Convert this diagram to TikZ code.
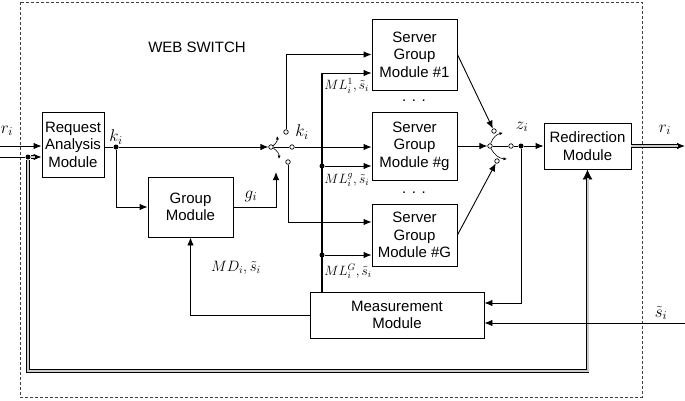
\RequirePackage{fix-cm}
\documentclass[tikz,border=0pt]{standalone}
\usepackage{fontspec}
\setmainfont{Liberation Sans}
\usetikzlibrary{arrows.meta}
\tikzset{module/.style = {draw, align=center, inner sep=1pt, minimum width=85pt}}
\tikzset{contact/.style = {circle, draw, fill=white, line width=0.7pt, inner sep=0pt, minimum size=4.5pt}}
\tikzset{junction/.style = {circle, fill=black, inner sep=0pt, minimum size=5pt}}
\tikzset{dbl/.style = {double=black!20, double distance=2pt, line width=0.7pt}}
\tikzset{bigtip/.style = {-{Latex[length=10pt,width=10pt]}}}
\tikzset{flip/.style = {-{Latex[length=3.5pt,width=3pt]}, line width=0.6pt}}
\tikzset{mlabel/.style = {anchor=west, inner sep=1pt, font=\fontsize{13.5}{15}\selectfont}}
\tikzset{sig/.style = {font=\fontsize{17}{19}\selectfont}}

\begin{document}
\begin{tikzpicture}[x=1pt, y=-1pt, > = {Latex[length=8pt,width=6.5pt]}, line width=0.9pt, font=\fontsize{15}{17.5}\selectfont]
	\useasboundingbox (0,0) rectangle (685,400);
	\draw [dash pattern=on 3pt off 2pt, line width=0.6pt, draw=black!75] (20,2) rectangle (642,397);
	\node (title) at (197,47) {WEB SWITCH};
	\begin{scope}[every node/.style={module}]
	    \node [minimum width=62pt, minimum height=65pt] (ram) at (73,144.5) {Request\\Analysis\\Module};
	    \node [minimum height=60pt] (gm) at (190.5,207) {Group\\Module};
	    \node [minimum height=71pt] (sg1) at (414.5,54.5) {Server\\Group\\Module \#1};
	    \node [minimum height=68pt] (sgg) at (414.5,146) {Server\\Group\\Module \#g};
	    \node [minimum height=62pt] (sgG) at (414.5,235) {Server\\Group\\Module \#G};
	    \node [minimum width=174pt, minimum height=46pt] (mm) at (397,315) {Measurement\\Module};
	    \node [minimum width=87pt, minimum height=46pt] (rm) at (587.5,146) {Redirection\\Module};
	\end{scope}
	\begin{scope}[every node/.style={contact}]
	    \node (s1in) at (271,147) {};
	    \node (s1a) at (286,132) {};
	    \node (s1b) at (292,147) {};
	    \node (s1c) at (288,162) {};
	    \node (s2in) at (490,146) {};
	    \node (s2a) at (494,131) {};
	    \node (s2c) at (497,161) {};
	    \node (s2out) at (511,146) {};
	\end{scope}
	\begin{scope}[every node/.style={junction}]
	    \node (rdot) at (28,157) {};
	    \node (kdot) at (116,147) {};
	    \node (bg) at (322,166) {};
	    \node (bG) at (322,255) {};
	    \node (zdot) at (521,146) {};
	\end{scope}
	\coordinate (rin) at (0,146);
	\coordinate (rin2) at (0,157);
	\coordinate (b1) at (322,73);
	\coordinate (gctl) at (276,172);
	\coordinate (zm) at (521,303);
	\coordinate (sin) at (685,323);
	\coordinate (rout) at (685,146);
	\coordinate (rbot) at (587.5,371);
	% labels
	\begin{scope}[every node/.style={sig}]
	    \node (rlab) at (7,131) {$r_i$};
	    \node (klab) at (116,137) {$k_i$};
	    \node (glab) at (251,196) {$g_i$};
	    \node (k2lab) at (302,132) {$k_i$};
	    \node (zlab) at (522,127) {$z_i$};
	    \node (routlab) at (665,130) {$r_i$};
	    \node (slab) at (661,313) {$\tilde{s}_i$};
	\end{scope}
	\node [mlabel] (ml1) at (323,86) {$ML_i^1,\tilde{s}_i$};
	\node [mlabel] (mlg) at (323,180) {$ML_i^g,\tilde{s}_i$};
	\node [mlabel] (mlG) at (323,271) {$ML_i^G,\tilde{s}_i$};
	\node (md) at (236,268) {$MD_i,\tilde{s}_i$};
	\node (dots1) at (414,101) {. . .};
	\node (dots2) at (414,193) {. . .};
	% request inputs
	\draw [->] (rin) -- (rin -| ram.west);
	\draw (rin2) -- (rdot.west);
	\draw [->] (rdot.east) -- (rdot -| ram.west);
	\draw [dbl, shorten >=7pt] (rdot.east) -- (rdot -| ram.west);
	\draw [bigtip] (rbot) -- (rm.south);
	\draw [dbl, shorten >=9pt] (rdot.south) |- (rbot) -- (rm.south);
	% first switch
	\draw (ram.east |- kdot) -- (kdot);
	\draw [->] (kdot) -- (s1in);
	\draw [->] (kdot) |- (gm.west);
	\draw [->] (gm.east) -| (gctl);
	\draw (s1in) -- (s1b);
	\draw [flip] ([shift={(11,-4)}]s1in) to[bend right] ([shift={(6,-11)}]s1in);
	\draw [flip] ([shift={(11,4)}]s1in) to[bend left] ([shift={(8,12)}]s1in);
	\draw [->] (s1a) |- (sg1.west);
	\draw [->] (s1b) -- (s1b -| sgg.west);
	\draw [->] (s1c) |- ([yshift=13pt]sgG.west);
	% measurement bus
	\draw [line width=1.6pt] (b1) -- (b1 |- mm.north);
	\draw [->] (b1) -- (b1 -| sg1.west);
	\draw [->] (bg) -- (bg -| sgg.west);
	\draw [->] (bG) -- (bG -| sgG.west);
	\draw [->] (mm.west) -| (gm.south);
	% second switch
	\draw [->] (sg1.east) -- (s2a);
	\draw [->] (sgg.east) -- (s2in);
	\draw [->] (sgG.east) -- (s2c);
	\draw (s2in) -- (s2out);
	\draw [flip] ([shift={(10,-4)}]s2in) to[bend left] ([shift={(13,-13)}]s2in);
	\draw [flip] ([shift={(13,4)}]s2in) to[bend right] ([shift={(17,13)}]s2in);
	\draw (s2out) -- (zdot);
	\draw [->] (zdot) -- (rm.west);
	\draw [->] (zdot) -- (zm) -- (zm -| mm.east);
	\draw [->] (sin) -- (sin -| mm.east);
	% output
	\draw [->] (rm.east) -- (rout);
	\draw [dbl, shorten >=7pt] (rm.east) -- (rout);
\end{tikzpicture}
\end{document}
